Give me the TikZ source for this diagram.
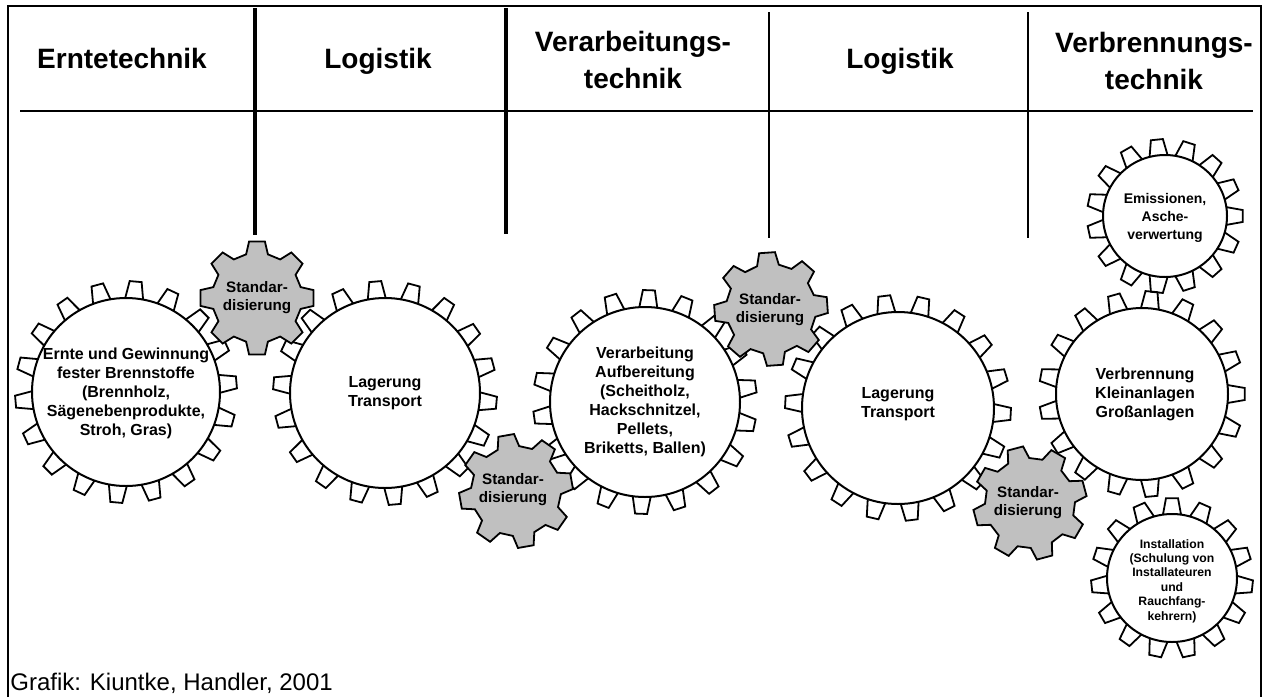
\documentclass[tikz,border=0pt]{standalone}
\usepackage{fontspec}
\setmainfont{Liberation Sans}
\definecolor{gearGray}{RGB}{192,192,192}
\tikzset{
  frame/.style={line width=1pt},
  thickdiv/.style={line width=1.6pt},
  thindiv/.style={line width=0.8pt},
  gearline/.style={line width=1pt},
  tooth/.style={line width=0.9pt, line join=miter},
  graygear/.style={fill=gearGray, draw=black, line width=0.9pt, line join=miter},
  head/.style={font=\bfseries\fontsize{14}{18.5}\selectfont, align=center, inner sep=0pt},
  gtext/.style={font=\bfseries\fontsize{8}{9.5}\selectfont, align=center, inner sep=0pt},
  stext/.style={font=\bfseries\fontsize{7.6}{9}\selectfont, align=center, inner sep=0pt},
}
% white gear: cx, cy, rx, ry, teeth, phase, tooth length
\newcommand\wgear[7]{%
 \begin{scope}[shift={(#1,#2)}]
  \pgfmathsetmacro\gst{360/#5}
  \pgfmathsetmacro\gdb{9/((#3+#4)/2)*57.2958}
  \pgfmathsetmacro\gdt{6/((#3+#4)/2+#7)*57.2958}
  \pgfmathsetmacro\grxo{#3+#7}
  \pgfmathsetmacro\gryo{#4+#7}
  \foreach \k in {1,...,#5}{
    \pgfmathsetmacro\ga{\k*\gst+#6}
    \pgfmathsetmacro\gaa{\ga-\gdb}
    \pgfmathsetmacro\gab{\ga-\gdt}
    \pgfmathsetmacro\gac{\ga+\gdt}
    \pgfmathsetmacro\gad{\ga+\gdb}
    \draw[tooth] ({#3*cos(\gaa)},{#4*sin(\gaa)}) -- ({\grxo*cos(\gab)},{\gryo*sin(\gab)}) -- ({\grxo*cos(\gac)},{\gryo*sin(\gac)}) -- ({#3*cos(\gad)},{#4*sin(\gad)});
  }
  \draw[gearline,fill=white] (0,0) ellipse [x radius=#3, y radius=#4];
 \end{scope}}
% gray gear: cx, cy, rotation
\newcommand\ggear[3]{%
 \begin{scope}[shift={(#1,#2)},rotate=#3]
  \draw[graygear] (-14:45) \foreach \a in {0,45,...,315}{ -- (\a-14:45) -- (\a-8:57) -- (\a+8:57) -- (\a+14:45) -- (\a+31:45)} -- cycle;
 \end{scope}}
\begin{document}
\begin{tikzpicture}[x=0.5pt,y=-0.5pt]
\useasboundingbox (0,0) rectangle (1270,697);
% frame and table lines
\draw[frame] (8,697) -- (8,6) -- (1261,6) -- (1261,697);
\draw[frame] (20,111) -- (1253,111);
\draw[thickdiv] (255,8) -- (255,235);
\draw[thickdiv] (506,8) -- (506,234);
\draw[thindiv] (769,12) -- (769,238);
\draw[thindiv] (1028,12) -- (1028,238);
% headers
\node[head,anchor=base] (h1) at (122,68) {Erntetechnik};
\node[head,anchor=base] (h2) at (378,68) {Logistik};
\node[head] (h3) at (633,60) {Verarbeitungs-\\technik};
\node[head,anchor=base] (h4) at (900,68) {Logistik};
\node[head] (h5) at (1154,61) {Verbrennungs-\\technik};
% white gears
\wgear{126}{392}{94}{94}{18}{15}{17}
\wgear{385}{393}{95}{95}{18}{5}{17}
\wgear{645}{402}{95}{95}{18}{12}{17}
\wgear{898}{408}{96}{96}{18}{3}{17}
\wgear{1142}{394}{86}{86}{17}{0}{17}
\wgear{1165}{216}{62}{61}{15}{0}{16}
\wgear{1172}{578}{65}{64}{15}{6}{16}
% gray gears
\ggear{257}{298}{0}
\ggear{516}{491}{10}
\ggear{771}{309}{4}
\ggear{1030}{503}{15}
% gear texts
\node[gtext] (tA) at (126,393) {Ernte und Gewinnung\\fester  Brennstoffe\\(Brennholz,\\Sägenebenprodukte,\\Stroh, Gras)};
\node[gtext] (tB) at (385,393) {Lagerung\\Transport};
\node[gtext] (tC) at (645,402) {Verarbeitung\\Aufbereitung\\(Scheitholz,\\Hackschnitzel,\\Pellets,\\Briketts,  Ballen)};
\node[gtext] (tD) at (898,404) {Lagerung\\Transport};
\node[gtext] (tE) at (1145,394) {Verbrennung\\Kleinanlagen\\Großanlagen};
\node[font=\bfseries\fontsize{7}{9}\selectfont,align=center,inner sep=0pt] (tF) at (1165,218) {Emissionen,\\Asche-\\verwertung};
\node[font=\bfseries\fontsize{6.1}{7.2}\selectfont,align=center,inner sep=0pt] (tG) at (1172,581) {Installation\\(Schulung von\\Installateuren\\und\\Rauchfang-\\kehrern)};
\node[stext] (s1) at (257,298) {Standar-\\disierung};
\node[stext] (s2) at (513,490) {Standar-\\disierung};
\node[stext] (s3) at (770,310) {Standar-\\disierung};
\node[stext] (s4) at (1028,503) {Standar-\\disierung};
% caption
\node[font=\fontsize{12}{14}\selectfont,anchor=base west,inner sep=0pt] (cap) at (10,690) {Grafik: Kiuntke, Handler, 2001};
\end{tikzpicture}
\end{document}
